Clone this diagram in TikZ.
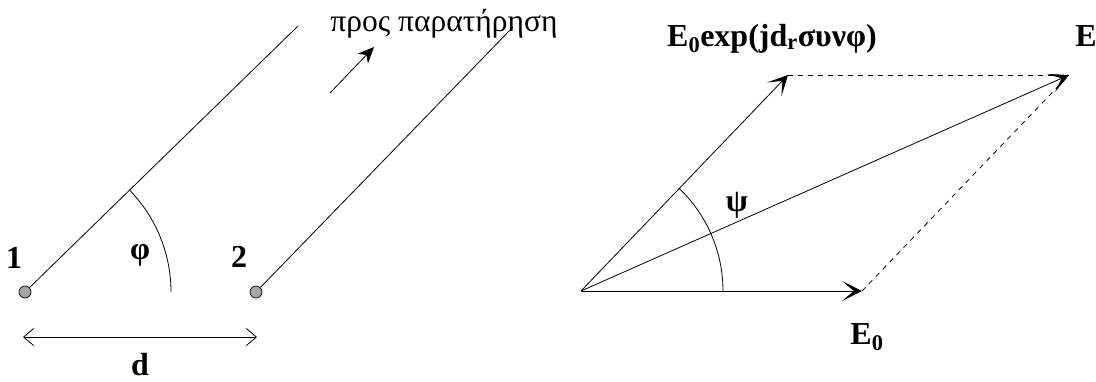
\documentclass[tikz,border=0pt]{standalone}
\usepackage{fontspec}
\setmainfont{Liberation Serif}
\usetikzlibrary{arrows.meta}
\tikzset{
  ln/.style={line width=0.8pt},
  dotnode/.style={circle, draw=black, line width=0.7pt, fill=gray!70, minimum size=12pt, inner sep=0pt},
  lbl/.style={font=\fontsize{32}{32}\selectfont\bfseries, inner sep=0pt},
  glbl/.style={font=\fontsize{31.5}{31.5}\selectfont, inner sep=0pt},
  vec/.style={ln, -{Stealth[length=20pt,width=20pt,inset=12pt]}},
  dimarrow/.style={ln, {Straight Barb[length=10pt,width=17pt]}-{Straight Barb[length=10pt,width=17pt]}},
  obsarrow/.style={ln, -{Stealth[length=16pt,width=14pt,inset=5pt]}},
  dsh/.style={line width=0.8pt, dash pattern=on 5pt off 5pt},
}
\begin{document}
\begin{tikzpicture}[x=1pt,y=-1pt]
\useasboundingbox (0,0) rectangle (1096,381);
% left part
\node[dotnode] (d1) at (25,292) {};
\node[dotnode] (d2) at (256,292) {};
\coordinate (t1) at (298,26);
\coordinate (t2) at (513,27);
\draw[ln] (d1) -- (t1);
\draw[ln] (d2) -- (t2);
\draw[ln] ([shift={(0:146)}]d1.center) arc (0:-44.3:146);
\node[lbl] (n1) at (14,258) {1};
\node[lbl] (n2) at (239,257) {2};
\node[lbl] (phi) at (140,255) {φ};
\coordinate (dl) at (23,337);
\coordinate (dr) at (257,337);
\draw[dimarrow] (dl) -- (dr);
\node[lbl, anchor=base] (dlab) at (140,375) {d};
\coordinate (oa) at (330,93);
\coordinate (ob) at (374,47);
\draw[obsarrow] (oa) -- (ob);
\node[glbl, anchor=base] (obs) at (444,31) {προς παρατήρηση};
% right part
\coordinate (O) at (581,291);
\coordinate (A) at (862,291);
\coordinate (B) at (788,75);
\coordinate (C) at (1069,75);
\draw[vec] (O) -- (A);
\draw[vec] (O) -- (B);
\draw[vec] (O) -- (C);
\draw[dsh] (B) -- (C);
\draw[dsh] (A) -- (C);
\draw[ln] ([shift={(0:142)}]O) arc (0:-46.3:142);
\node[lbl] (psi) at (737,205) {ψ};
\node[lbl] (E0) at (867,337) {E\textsubscript{0}};
\node[lbl] (E) at (1086,36) {E};
\node[lbl, anchor=base] (Eexp) at (772,46) {E\textsubscript{0}exp(jd\textsubscript{r}συνφ)};
\end{tikzpicture}
\end{document}
